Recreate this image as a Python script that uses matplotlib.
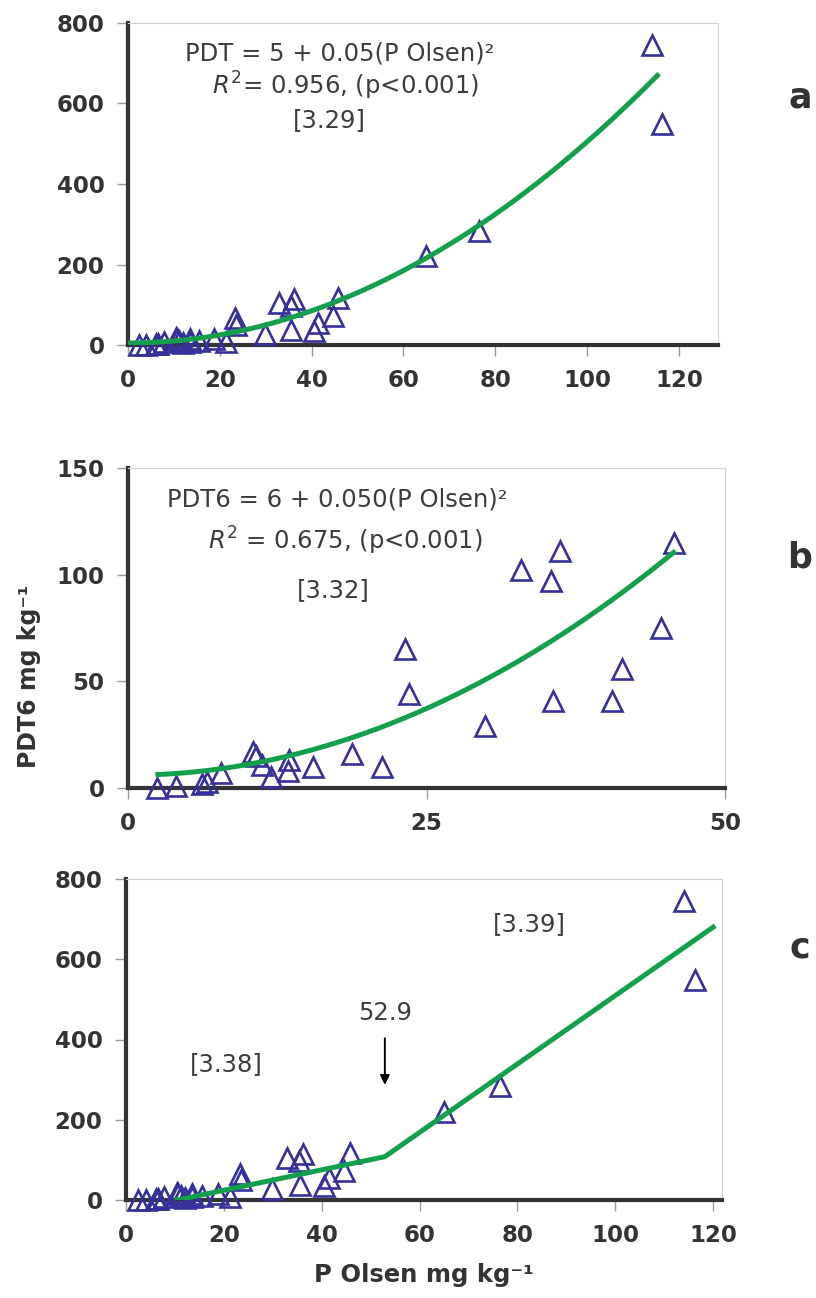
import numpy as np
import matplotlib
matplotlib.use("Agg")
import matplotlib.pyplot as plt

# P Olsen and PDT (mg/kg) for all soils
p_olsen = [2.4, 4.0, 6.2, 6.6, 7.8, 10.5, 10.7, 11.2, 12.0, 13.4, 13.5, 15.5, 18.8, 21.3,
           23.2, 23.5, 29.9, 32.9, 35.4, 35.6, 36.2, 40.5, 41.4, 44.6, 45.7,
           65.0, 76.4, 114.1, 116.2]
pdt = [0, 1, 2, 3, 7, 17, 15, 10, 5, 8, 14, 10, 16, 8,
       66, 50, 28, 104, 98, 38, 115, 36, 55, 72, 118,
       220, 283, 745, 548]

# soils below 50 mg/kg P Olsen, with PDT6
p_olsen_b = [2.4, 4.0, 6.2, 6.6, 7.8, 10.5, 10.7, 11.2, 12.0, 13.4, 13.5, 15.5, 18.8, 21.3,
             23.2, 23.5, 29.9, 32.9, 35.4, 35.6, 36.2, 40.5, 41.4, 44.6, 45.7]
pdt6 = [0, 1, 2, 3, 7, 17, 15, 11, 5, 8, 13, 10, 16, 10,
        65, 44, 29, 102, 97, 41, 111, 41, 56, 75, 115]

# fitted equations [3.29] and [3.32]: PDT = a + b * (P Olsen)^2
fit_a = (5, 0.05)
fit_b = (6, 0.050)
range_a = (0.5, 115.3)
range_b = (2.5, 45.7)

# split-line model [3.38]/[3.39], change point at 52.9
change_point = 52.9
split_x = [10.5, change_point, 120.0]
split_y = [0, 108, 680]

plt.rcParams['font.family'] = 'DejaVu Sans'
plt.rcParams['mathtext.fontset'] = 'dejavusans'

tri_col = '#35309a'
line_col = '#13a04c'
text_col = '#3c3c3c'


def style(ax):
    for s in ['left', 'bottom']:
        ax.spines[s].set_linewidth(3)
        ax.spines[s].set_color('#333333')
    for s in ['top', 'right']:
        ax.spines[s].set_linewidth(0.8)
        ax.spines[s].set_color('#d0d0d0')
    ax.tick_params(direction='out', length=8, width=1, color='#9a9a9a', pad=9,
                   labelsize=16.5, labelcolor='#333333')
    for lab in ax.get_xticklabels() + ax.get_yticklabels():
        lab.set_fontweight('bold')


def points(ax, x, y):
    ax.plot(x, y, linestyle='none', marker='^', markersize=15, markerfacecolor='none',
            markeredgecolor=tri_col, markeredgewidth=1.9, clip_on=False, zorder=3)


def note(ax, x, y, s):
    ax.text(x, y, s, transform=ax.transAxes, fontsize=17.5,
            color=text_col, ha='left', va='center')


fig = plt.figure(figsize=(8.16, 12.98), dpi=100)

# a: PDT against P Olsen with the quadratic fit
ax = fig.add_axes([128 / 816, 1 - 345 / 1298, 590 / 816, 322 / 1298])
points(ax, p_olsen, pdt)
xs = np.linspace(range_a[0], range_a[1], 200)
ax.plot(xs, fit_a[0] + fit_a[1] * xs ** 2, color=line_col, lw=3.6, zorder=4)
ax.set_xlim(0, 128.5)
ax.set_ylim(0, 800)
ax.set_xticks([0, 20, 40, 60, 80, 100, 120])
ax.set_yticks([0, 200, 400, 600, 800])
style(ax)
note(ax, 0.097, 0.905, 'PDT = 5 + 0.05(P Olsen)²')
note(ax, 0.142, 0.805, r'$R^2$= 0.956, (p<0.001)')
note(ax, 0.28, 0.70, '[3.29]')

# b: PDT6 against P Olsen
ax = fig.add_axes([128 / 816, 1 - 788 / 1298, 597 / 816, 320 / 1298])
points(ax, p_olsen_b, pdt6)
xs = np.linspace(range_b[0], range_b[1], 200)
ax.plot(xs, fit_b[0] + fit_b[1] * xs ** 2, color=line_col, lw=3.6, zorder=4)
ax.set_xlim(0, 50)
ax.set_ylim(0, 150)
ax.set_xticks([0, 25, 50])
ax.set_yticks([0, 50, 100, 150])
style(ax)
ax.set_ylabel('PDT6 mg kg⁻¹', fontsize=17, fontweight='bold', color='#333333')
ax.yaxis.set_label_coords(-0.145, 0.35)
note(ax, 0.065, 0.90, 'PDT6 = 6 + 0.050(P Olsen)²')
note(ax, 0.134, 0.772, r'$R^2$ = 0.675, (p<0.001)')
note(ax, 0.283, 0.62, '[3.32]')

# c: split-line model
ax = fig.add_axes([126 / 816, 1 - 1200 / 1298, 596 / 816, 321 / 1298])
points(ax, p_olsen, pdt)
ax.plot(split_x, split_y, color=line_col, lw=3.6, zorder=4)
ax.set_xlim(0, 121.8)
ax.set_ylim(0, 800)
ax.set_xticks([0, 20, 40, 60, 80, 100, 120])
ax.set_yticks([0, 200, 400, 600, 800])
style(ax)
ax.set_xlabel('P Olsen mg kg⁻¹', fontsize=17.5, fontweight='bold', color='#333333', labelpad=12)
ax.annotate('', xy=(change_point, 280), xytext=(change_point, 410),
            arrowprops=dict(arrowstyle='-|>', color='black', lw=1.4, mutation_scale=14))
ax.text(change_point, 467, str(change_point), fontsize=17.5,
        color=text_col, ha='center', va='center')
note(ax, 0.107, 0.424, '[3.38]')
note(ax, 0.616, 0.86, '[3.39]')

# panel letters
for lab, ypix in [('a', 98), ('b', 557), ('c', 948)]:
    fig.text(800 / 816, 1 - ypix / 1298, lab, fontsize=25, fontweight='bold',
             color='#333333', ha='center', va='center')

plt.savefig('out.png', dpi=100)
plt.close('all')
